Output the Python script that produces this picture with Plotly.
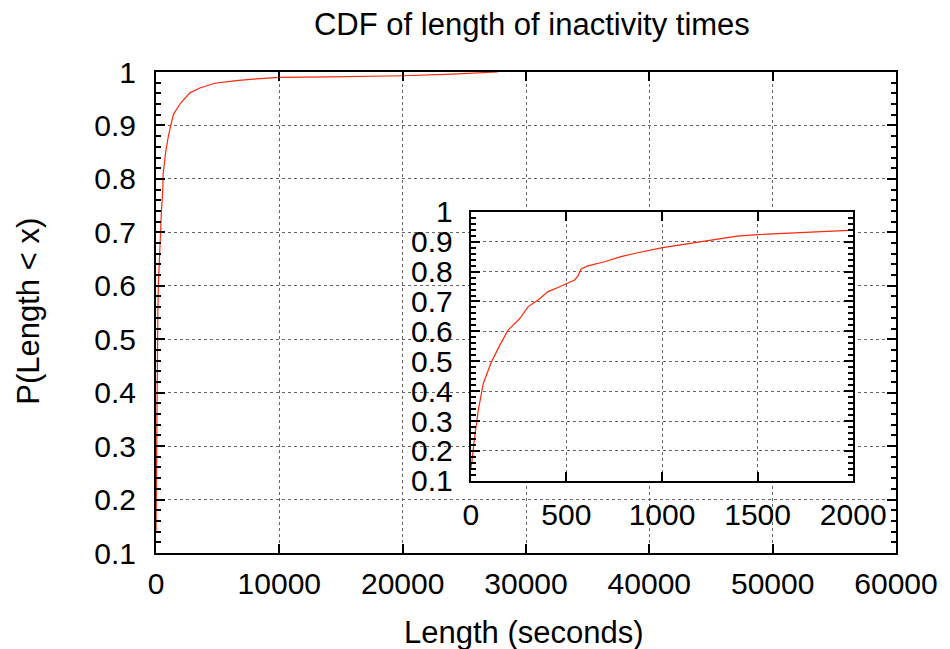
import plotly.graph_objects as go

# CDF data (seconds, probability)
length_s = [0, 5, 18, 39, 65, 108, 152, 195, 256, 299, 352, 404, 456, 499, 543, 560, 577, 612,
            699, 785, 872, 1003, 1150, 1272, 1393, 1501, 1654, 1827, 2000, 2742, 3548, 4758,
            6508, 8121, 10000, 14000, 20000, 24000, 27700]
cdf = [0.14, 0.16, 0.235, 0.336, 0.425, 0.498, 0.554, 0.604, 0.643, 0.682, 0.705, 0.733, 0.747,
       0.759, 0.772, 0.785, 0.809, 0.819, 0.833, 0.850, 0.863, 0.880, 0.895, 0.908, 0.919, 0.924,
       0.930, 0.937, 0.942, 0.961, 0.970, 0.979, 0.984, 0.987, 0.990, 0.991, 0.993, 0.996, 1.0]

main_x_ticks = [0, 10000, 20000, 30000, 40000, 50000, 60000]
main_x_text = ["0", "10000", "20000", "30000", "40000", "50000", "60000"]
inset_x_ticks = [0, 500, 1000, 1500, 2000]
inset_x_text = ["0", "500", "1000", "1500", "2000"]
y_ticks = [0.1, 0.2, 0.3, 0.4, 0.5, 0.6, 0.7, 0.8, 0.9, 1.0]
y_tick_text = ["0.1", "0.2", "0.3", "0.4", "0.5", "0.6", "0.7", "0.8", "0.9", "1"]

FONT = "Liberation Sans, Arial, Helvetica, sans-serif"
LINE = "rgb(255,40,10)"
GRID = "#666666"

fig = go.Figure()
fig.add_trace(go.Scatter(x=length_s, y=cdf, mode="lines", line=dict(color=LINE, width=1.2),
                         xaxis="x", yaxis="y", showlegend=False))
fig.add_trace(go.Scatter(x=length_s, y=cdf, mode="lines", line=dict(color=LINE, width=1.2),
                         xaxis="x2", yaxis="y2", showlegend=False))

axis_common = dict(showline=True, linecolor="black", linewidth=2, mirror="ticks",
                   ticks="inside", ticklen=9, tickwidth=1.5, tickcolor="black",
                   showgrid=True, gridcolor=GRID, griddash="dot", gridwidth=1,
                   zeroline=False, tickfont=dict(family=FONT, size=30, color="black"))

minor_y = dict(tickmode="linear", tick0=0, dtick=0.02, ticks="inside", ticklen=5,
               tickwidth=1.5, tickcolor="black", showgrid=False)

fig.update_layout(
    width=950, height=649,
    margin=dict(l=156, r=50, t=72, b=96),
    paper_bgcolor="white", plot_bgcolor="white",
    title=dict(text="CDF of length of inactivity times", x=0.508, xref="paper",
               y=1 - 24 / 649, yref="container", xanchor="center", yanchor="middle",
               font=dict(family=FONT, size=31, color="black")),
    xaxis=dict(range=[0, 60000], tickmode="array", tickvals=main_x_ticks, ticktext=main_x_text,
               ticklabelstandoff=3, domain=[0, 1], anchor="y", **axis_common),
    yaxis=dict(range=[0.1, 1.0], tickmode="array", tickvals=y_ticks, ticktext=y_tick_text,
               ticklabelstandoff=12, domain=[0, 1], anchor="x", minor=minor_y,
               **axis_common),
    xaxis2=dict(range=[0, 2000], tickmode="array", tickvals=inset_x_ticks, ticktext=inset_x_text,
                ticklabelstandoff=6, domain=[0.4254, 0.9422], anchor="y2", **axis_common),
    yaxis2=dict(range=[0.1, 1.0], tickmode="array", tickvals=y_ticks, ticktext=y_tick_text,
                ticklabelstandoff=10, domain=[0.1501, 0.7093], anchor="x2", minor=minor_y,
                **axis_common),
    annotations=[
        dict(text="Length (seconds)", xref="paper", yref="paper", x=0.497, y=-0.166,
             xanchor="center", yanchor="middle", showarrow=False,
             font=dict(family=FONT, size=31, color="black")),
        dict(text="P(Length < x)", xref="paper", yref="paper", x=-0.1734, y=0.503,
             xanchor="center", yanchor="middle", textangle=-90, showarrow=False,
             font=dict(family=FONT, size=31, color="black")),
    ],
)

fig.write_html("out.html")
